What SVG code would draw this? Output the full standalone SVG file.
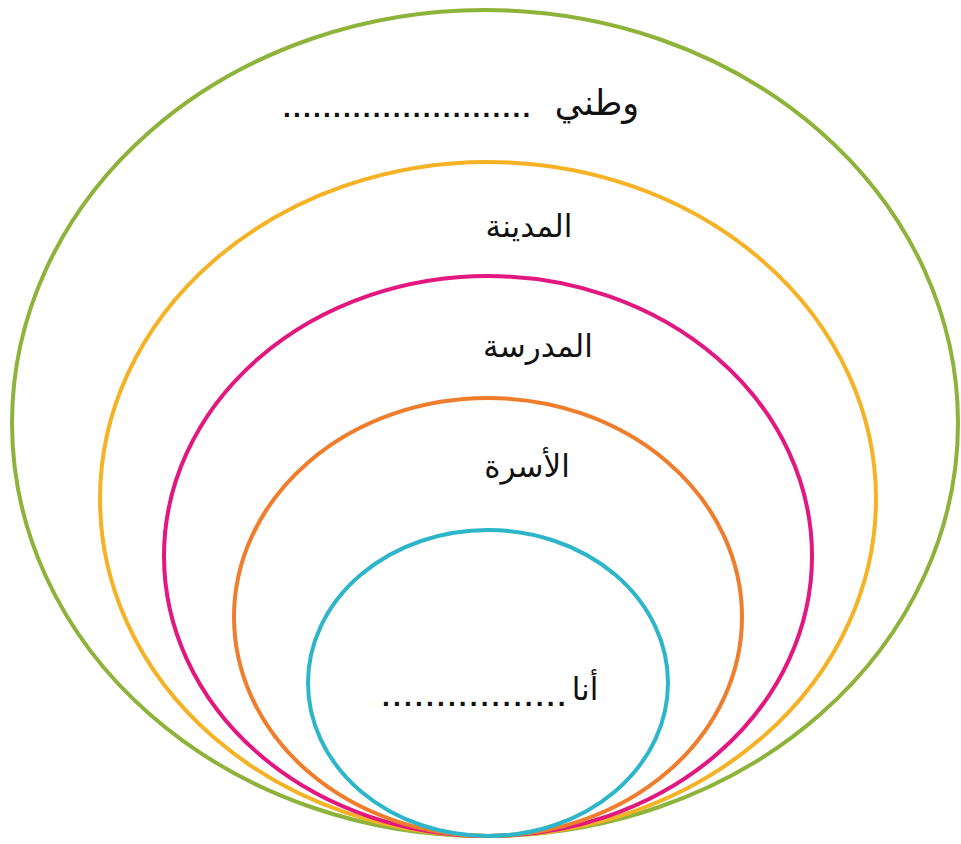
<svg xmlns="http://www.w3.org/2000/svg" width="961" height="844" viewBox="0 0 961 844">
<style>
.ring{fill:none;stroke-width:4}
.lbl{font-family:"DejaVu Sans","Liberation Sans",sans-serif;font-size:31px;fill:#111;text-anchor:middle}
.dots{font-family:"Liberation Sans",sans-serif;font-size:28px;font-weight:bold;fill:#111}
</style>
<rect width="961" height="844" fill="#fff"/>
<g id="watan"><ellipse class="ring" cx="485" cy="423" rx="473" ry="413" stroke="#8db33a"/></g>
<g id="madina"><ellipse class="ring" cx="488" cy="499" rx="388" ry="337" stroke="#f5b225"/></g>
<g id="madrasa"><ellipse class="ring" cx="488" cy="556" rx="324" ry="280" stroke="#e2177f"/></g>
<g id="usra"><ellipse class="ring" cx="488" cy="617" rx="254" ry="219" stroke="#f07d2b"/></g>
<g id="ana"><ellipse class="ring" cx="488" cy="683" rx="180" ry="153" stroke="#2db6c9"/></g>
<g id="texts">
<text class="lbl" x="597" y="115" style="font-size:35px">وطني</text>
<text class="dots" x="283" y="117" letter-spacing="2.2">.........................</text>
<text class="lbl" x="529" y="237">المدينة</text>
<text class="lbl" x="538" y="357">المدرسة</text>
<text class="lbl" x="527" y="477">الأسرة</text>
<text class="lbl" x="585" y="700">أنا</text>
<text class="dots" x="382" y="706" letter-spacing="3.2">.................</text>
</g>
</svg>
